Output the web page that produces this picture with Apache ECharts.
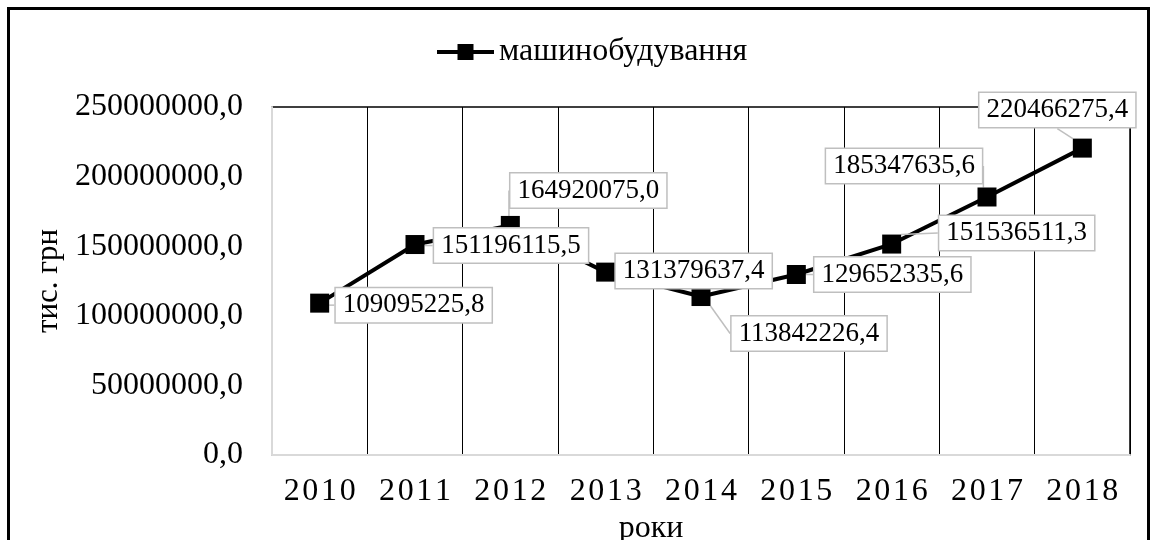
<!DOCTYPE html>
<html>
<head>
<meta charset="utf-8">
<script src="https://cdn.jsdelivr.net/npm/echarts@6/dist/echarts.min.js"></script>
<style>
  html, body { margin: 0; padding: 0; background: #fff; }
  #frame { position: absolute; left: 7px; top: 7px; width: 1137px; height: 620px; border: 3px solid #000; }
  #main { position: absolute; left: 0; top: 0; width: 1155px; height: 540px; }
</style>
</head>
<body>
<div id="frame"></div>
<div id="main"></div>
<script>
var years = ['2010', '2011', '2012', '2013', '2014', '2015', '2016', '2017', '2018'];
var values = [109095225.8, 151196115.5, 164920075.0, 131379637.4, 113842226.4, 129652335.6, 151536511.3, 185347635.6, 220466275.4];
var seriesName = 'машинобудування';
var yTicks = [0, 50000000, 100000000, 150000000, 200000000, 250000000];

// зсув підписів від маркерів (як у вихідній діаграмі)
var labelShift = [[94, 2], [96, 1], [78, -35], [88, -1], [108, 37], [96, 0], [125, -11], [-83, -31], [-25, -38]];

function fmt(v) {
    return v.toFixed(1).replace('.', ',');
}

var font = 'Times New Roman, Liberation Serif, serif';
var myChart = echarts.init(document.getElementById('main'));

option = {
    animation: false,
    textStyle: { fontFamily: font, color: '#000' },
    legend: {
        data: [seriesName],
        top: 36,
        left: 435,
        padding: 0,
        itemWidth: 57,
        itemHeight: 20,
        itemGap: 5,
        lineStyle: { width: 4, color: '#000' },
        textStyle: { fontFamily: font, fontSize: 32, color: '#000' }
    },
    grid: {
        left: 272,
        right: 25,
        top: 107,
        bottom: 85,
        outerBoundsMode: 'none',
        show: true,
        borderColor: '#000',
        borderWidth: 1.5
    },
    xAxis: {
        type: 'category',
        data: years,
        boundaryGap: true,
        name: 'роки',
        nameLocation: 'middle',
        nameGap: 47,
        nameTextStyle: { fontFamily: font, fontSize: 32, color: '#000', padding: [0, 100, 0, 0] },
        axisLine: { show: true, lineStyle: { color: '#d9d9d9', width: 2 } },
        axisTick: { show: false },
        axisLabel: {
            margin: 21,
            fontFamily: font,
            fontSize: 32,
            color: '#000',
            formatter: function (v) { return v.split('').join('\u200A'); }
        },
        splitLine: { show: true, interval: 0, lineStyle: { color: '#000', width: 1 } }
    },
    yAxis: {
        type: 'value',
        min: yTicks[0],
        max: yTicks[yTicks.length - 1],
        interval: yTicks[1] - yTicks[0],
        name: 'тис. грн',
        nameLocation: 'middle',
        nameRotate: 90,
        nameGap: 205,
        nameTextStyle: { fontFamily: font, fontSize: 31, color: '#000' },
        axisLine: { show: true, lineStyle: { color: '#d9d9d9', width: 2 } },
        axisTick: { show: false },
        axisLabel: {
            margin: 29,
            fontFamily: font,
            fontSize: 32,
            color: '#000',
            formatter: function (v) { return fmt(v); }
        },
        splitLine: { show: false }
    },
    series: [{
        name: seriesName,
        type: 'line',
        data: values,
        symbol: 'rect',
        symbolSize: 19,
        itemStyle: { color: '#000' },
        lineStyle: { color: '#000', width: 4 },
        label: {
            show: true,
            position: 'inside',
            fontFamily: font,
            fontSize: 27,
            color: '#000',
            backgroundColor: '#fff',
            borderColor: '#bfbfbf',
            borderWidth: 1.5,
            padding: [4, 7, 3, 7],
            formatter: function (p) { return fmt(p.value); }
        },
        labelLine: {
            show: true,
            lineStyle: { color: '#bfbfbf', width: 1.5 }
        },
        labelLayout: function (params) {
            var s = labelShift[params.dataIndex];
            return { dx: s[0], dy: s[1] };
        }
    }]
};

myChart.setOption(option);
</script>
</body>
</html>
